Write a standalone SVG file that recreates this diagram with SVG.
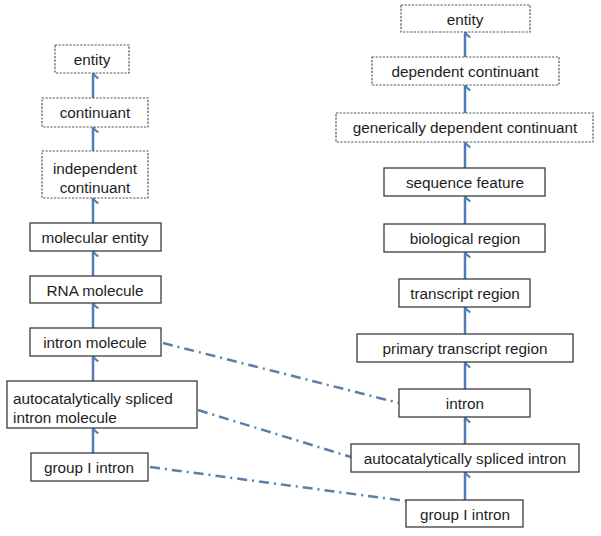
<svg xmlns="http://www.w3.org/2000/svg" width="601" height="536" viewBox="0 0 601 536">
<defs>
<marker id="ah" viewBox="0 0 12 12" refX="6" refY="1.3" markerWidth="12" markerHeight="12" markerUnits="userSpaceOnUse" orient="auto-start-reverse">
<path d="M1.5,6.5 L6,1.3 L10.5,6.5" fill="none" stroke="#4f7db5" stroke-width="2.2"/>
</marker>
<style>
.box{fill:#fff;stroke:#3d3d3d;stroke-width:1.3}
.dbox{fill:#fff;stroke:#555;stroke-width:1.2;stroke-dasharray:2.2 1.4}
text{font-family:"Liberation Sans",Arial,sans-serif;font-size:15.3px;fill:#1e1e1e}
.c{text-anchor:middle}
.arr{stroke:#4f7db5;stroke-width:2.5;fill:none}
.link{stroke:#5b7fa6;stroke-width:2.5;fill:none;stroke-dasharray:10 5 2 5}
</style>
</defs>
<rect width="601" height="536" fill="#fff"/>
<g id="connectors">
<line class="arr" x1="93" y1="98" x2="93" y2="74" marker-end="url(#ah)"/>
<line class="arr" x1="93" y1="151" x2="93" y2="128" marker-end="url(#ah)"/>
<line class="arr" x1="93" y1="223" x2="93" y2="199" marker-end="url(#ah)"/>
<line class="arr" x1="93" y1="276" x2="93" y2="252" marker-end="url(#ah)"/>
<line class="arr" x1="93" y1="328" x2="93" y2="304" marker-end="url(#ah)"/>
<line class="arr" x1="93" y1="381" x2="93" y2="357" marker-end="url(#ah)"/>
<line class="arr" x1="93" y1="453" x2="93" y2="429" marker-end="url(#ah)"/>
<line class="arr" x1="465" y1="57" x2="465" y2="33" marker-end="url(#ah)"/>
<line class="arr" x1="465" y1="113" x2="465" y2="86" marker-end="url(#ah)"/>
<line class="arr" x1="465" y1="168" x2="465" y2="143" marker-end="url(#ah)"/>
<line class="arr" x1="465" y1="224" x2="465" y2="197" marker-end="url(#ah)"/>
<line class="arr" x1="465" y1="279" x2="465" y2="253" marker-end="url(#ah)"/>
<line class="arr" x1="465" y1="334" x2="465" y2="308" marker-end="url(#ah)"/>
<line class="arr" x1="465" y1="389" x2="465" y2="363" marker-end="url(#ah)"/>
<line class="arr" x1="465" y1="444" x2="465" y2="418" marker-end="url(#ah)"/>
<line class="arr" x1="465" y1="500" x2="465" y2="473" marker-end="url(#ah)"/>
<line class="link" x1="163" y1="343" x2="399" y2="403"/>
<line class="link" x1="198" y1="410" x2="351" y2="457"/>
<line class="link" x1="150" y1="467" x2="406" y2="501"/>
</g>
<g id="l-entity"><rect class="dbox" x="55" y="45" width="74" height="28"/><text class="c" x="92" y="64.5">entity</text></g>
<g id="l-continuant"><rect class="dbox" x="42" y="98" width="106" height="29"/><text class="c" x="95" y="117.5">continuant</text></g>
<g id="l-independent-continuant"><rect class="dbox" x="42" y="151" width="106" height="47"/><text class="c" x="95" y="173.5">independent</text><text class="c" x="95" y="192.5">continuant</text></g>
<g id="l-molecular-entity"><rect class="box" x="30" y="223" width="131" height="28"/><text class="c" x="95" y="242.5">molecular entity</text></g>
<g id="l-rna-molecule"><rect class="box" x="30" y="276" width="131" height="27"/><text class="c" x="95" y="295.5">RNA molecule</text></g>
<g id="l-intron-molecule"><rect class="box" x="30" y="328" width="131" height="28"/><text class="c" x="95" y="347.5">intron molecule</text></g>
<g id="l-autocat"><rect class="box" x="7" y="381" width="190" height="47"/><text x="13" y="403.5">autocatalytically spliced</text><text x="13" y="422.5">intron molecule</text></g>
<g id="l-group-i-intron"><rect class="box" x="31" y="453" width="117" height="28"/><text class="c" x="89" y="472.5">group I intron</text></g>
<g id="r-entity"><rect class="dbox" x="401" y="5" width="129" height="27"/><text class="c" x="465" y="24.5">entity</text></g>
<g id="r-dependent-continuant"><rect class="dbox" x="372" y="57" width="187" height="28"/><text class="c" x="465" y="76.5">dependent continuant</text></g>
<g id="r-generically-dependent-continuant"><rect class="dbox" x="336" y="113" width="257" height="29"/><text class="c" x="465" y="132.5">generically dependent continuant</text></g>
<g id="r-sequence-feature"><rect class="box" x="384" y="168" width="161" height="28"/><text class="c" x="465" y="187.5">sequence feature</text></g>
<g id="r-biological-region"><rect class="box" x="384" y="224" width="161" height="28"/><text class="c" x="465" y="243.5">biological region</text></g>
<g id="r-transcript-region"><rect class="box" x="399" y="279" width="131" height="28"/><text class="c" x="465" y="298.5">transcript region</text></g>
<g id="r-primary-transcript-region"><rect class="box" x="357" y="334" width="216" height="28"/><text class="c" x="465" y="353.5">primary transcript region</text></g>
<g id="r-intron"><rect class="box" x="399" y="389" width="131" height="28"/><text class="c" x="465" y="408.5">intron</text></g>
<g id="r-autocat"><rect class="box" x="351" y="444" width="228" height="28"/><text class="c" x="465" y="463.5">autocatalytically spliced intron</text></g>
<g id="r-group-i-intron"><rect class="box" x="406" y="500" width="117" height="27"/><text class="c" x="465" y="519.5">group I intron</text></g>
</svg>
